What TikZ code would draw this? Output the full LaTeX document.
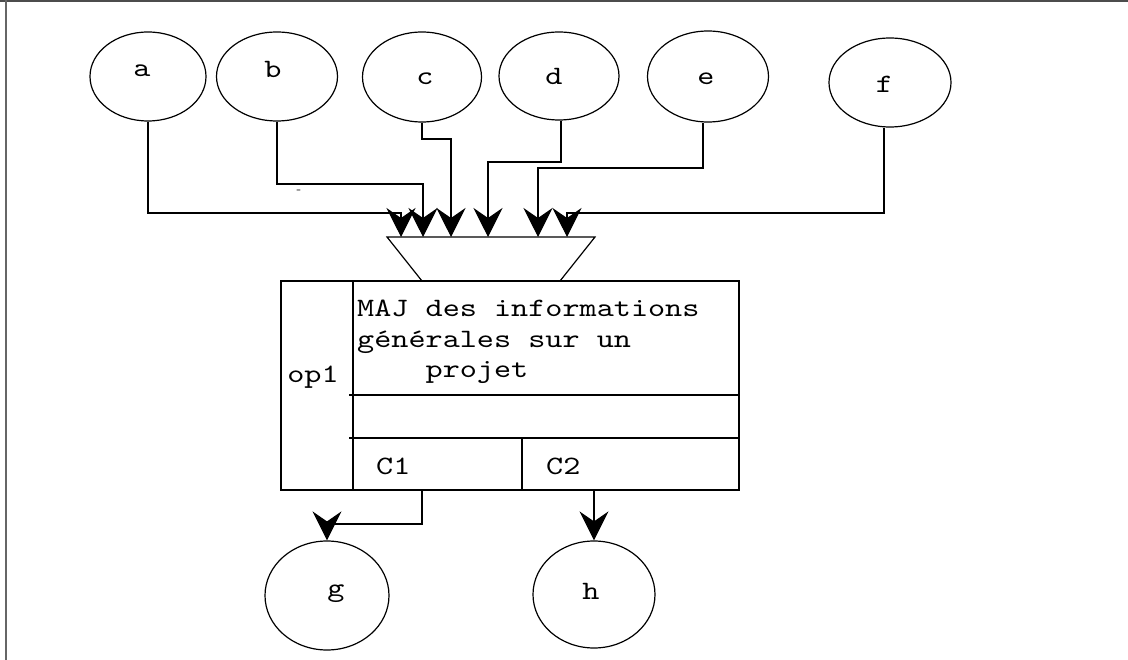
\documentclass[tikz,border=0pt]{standalone}
\usepackage{fontspec}
\newfontfamily\courf[FakeStretch=1.23]{lmmono10-regular.otf}
\usetikzlibrary{arrows.meta,shapes.geometric}
\begin{document}
\begin{tikzpicture}[x=1pt,y=-1pt,
  oval/.style={draw, ellipse, line width=1.2pt, inner sep=0pt},
  arr/.style={-{Stealth[length=29pt,width=29pt,inset=10pt]}, line width=1.1pt},
  frame/.style={line width=1.2pt},
  lbl/.style={font=\courf\fontsize{26.5}{30}\selectfont, inner sep=0pt}]
\useasboundingbox (0,0) rectangle (1128,660);
% page frame
\draw[line width=2pt, black!70] (0,1) -- (1128,1);
\draw[line width=1.2pt, black!60] (6,0) -- (6,660);
% top ellipses
\node[oval, minimum width=116pt, minimum height=89pt] (a) at (148,76.5) {};
\node[oval, minimum width=121pt, minimum height=89pt] (b) at (277,76.5) {};
\node[oval, minimum width=119pt, minimum height=90pt] (c) at (422,77) {};
\node[oval, minimum width=120pt, minimum height=88pt] (d) at (559,76) {};
\node[oval, minimum width=121pt, minimum height=91pt] (e) at (708,76.5) {};
\node[oval, minimum width=122pt, minimum height=89pt] (f) at (890,82.5) {};
\node[lbl] (la) at (142,71) {a};
\node[lbl] (lb) at (273,69) {b};
\node[lbl] (lc) at (425,79) {c};
\node[lbl] (ld) at (554,76) {d};
\node[lbl] (le) at (706,79) {e};
\node[lbl] (lf) at (884.5,84.5) {f};
% bottom ellipses
\node[oval, minimum width=124pt, minimum height=109pt] (g) at (327,595.5) {};
\node[oval, minimum width=122pt, minimum height=107pt] (h) at (594,594.5) {};
\node[lbl] (lg) at (336,594) {g};
\node[lbl] (lh) at (591,591) {h};
% trapezoid
\draw[frame] (387,237) -- (595,237) -- (560,281) -- (422,281) -- cycle;
% operation box
\node[draw, frame, minimum width=458pt, minimum height=209pt, inner sep=0pt] (box) at (510,385.5) {};
\draw[frame] (353,281) -- (353,490);
\draw[frame] (349,395) -- (739,395);
\draw[frame] (349,438) -- (739,438);
\draw[frame] (522,438) -- (522,490);
\node[lbl, anchor=base west] (t1) at (357,317) {MAJ des informations};
\node[lbl, anchor=base west] (t2) at (357,347.5) {générales sur un};
\node[lbl, anchor=base west] (t3) at (357,378) {\phantom{xxxx}projet};
\node[lbl, anchor=base] (op) at (313,383) {op1};
\node[lbl, anchor=base west] (k1) at (376,475) {C1};
\node[lbl, anchor=base west] (k2) at (546,475) {C2};
% arrow tips on the trapezoid
\coordinate (p1) at (401,237);
\coordinate (p2) at (423,237);
\coordinate (p3) at (451,237);
\coordinate (p4) at (488,237);
\coordinate (p5) at (538,237);
\coordinate (p6) at (567,237);
\draw[arr] (a.south) |- (401,213) -- (p1);
\draw[arr] (b.south) |- (423,184) -- (p2);
\draw[arr] (c.south) |- (451,139) -- (p3);
\draw[arr] ([xshift=2pt]d.south) |- (488,162) -- (p4);
\draw[arr] ([xshift=-5pt]e.south) |- (538,168) -- (p5);
\draw[arr] ([xshift=-6pt]f.south) |- (567,213) -- (p6);
\node[font=\fontsize{14}{14}\selectfont, inner sep=0pt] (dash) at (299,192) {-};
% outputs
\coordinate (o1) at (422,490);
\coordinate (o2) at (594,490);
\draw[arr] (o1) |- (327,524) -- (g.north);
\draw[arr] (o2) -- (h.north);
\end{tikzpicture}
\end{document}
